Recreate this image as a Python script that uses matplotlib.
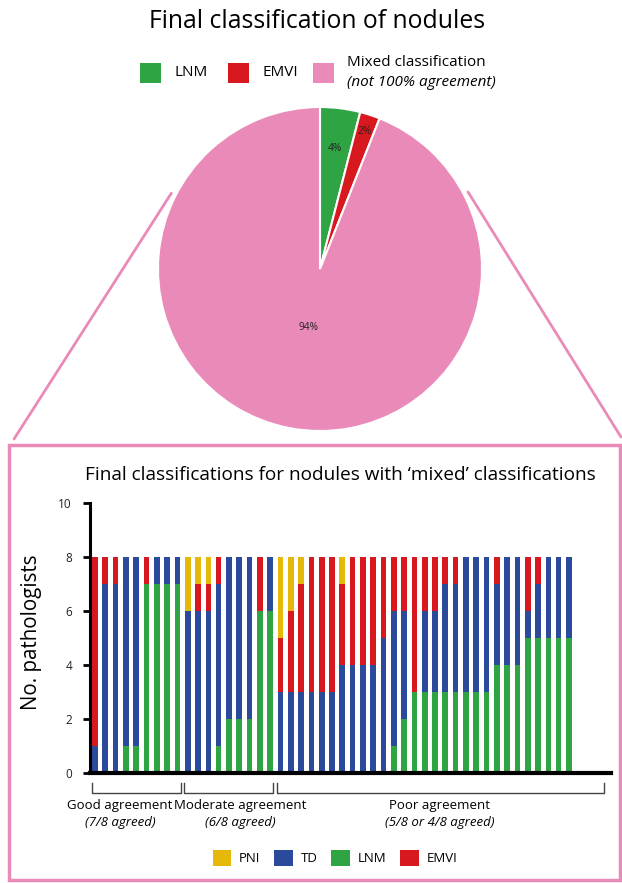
import matplotlib
matplotlib.use("Agg")
import matplotlib.pyplot as plt
from matplotlib.patches import Rectangle, ConnectionPatch
import numpy as np

plt.rcParams['font.family'] = ['Open Sans', 'DejaVu Sans']

green = '#2ea443'
blue = '#2b4a9b'
red = '#d7191f'
yellow = '#e6b80a'
pink = '#e98ab8'

# pie: final classification of nodules
pie_labels = ["LNM", "EMVI", "Mixed classification"]
pie_note = "(not 100% agreement)"
pie_share = [4, 2, 94]

# nodules with mixed classification, stacked bottom -> top: LNM, TD, EMVI, PNI
group_names = ["Good agreement", "Moderate agreement", "Poor agreement"]
group_notes = ["(7/8 agreed)", "(6/8 agreed)", "(5/8 or 4/8 agreed)"]
group_sizes = [9, 9, 29]

lnm = [0, 0, 0, 1, 1, 7, 7, 7, 7,
       0, 0, 0, 1, 2, 2, 2, 6, 6,
       0, 0, 0, 0, 0, 0, 0, 0, 0, 0, 0, 1, 2, 3, 3, 3, 3, 3, 3, 3, 3, 4, 4, 4, 5, 5, 5, 5, 5]
td = [1, 7, 7, 7, 7, 0, 1, 1, 1,
      6, 6, 6, 6, 6, 6, 6, 0, 2,
      3, 3, 3, 3, 3, 3, 4, 4, 4, 4, 5, 5, 4, 0, 3, 3, 4, 4, 5, 5, 5, 3, 4, 4, 1, 2, 3, 3, 3]
emvi = [7, 1, 1, 0, 0, 1, 0, 0, 0,
        0, 1, 1, 1, 0, 0, 0, 2, 0,
        2, 3, 4, 5, 5, 5, 3, 4, 4, 4, 3, 2, 2, 5, 2, 2, 1, 1, 0, 0, 0, 1, 0, 0, 2, 1, 0, 0, 0]
pni = [0, 0, 0, 0, 0, 0, 0, 0, 0,
       2, 1, 1, 0, 0, 0, 0, 0, 0,
       3, 2, 1, 0, 0, 0, 1, 0, 0, 0, 0, 0, 0, 0, 0, 0, 0, 0, 0, 0, 0, 0, 0, 0, 0, 0, 0, 0, 0]

W, H = 622, 883
fig = plt.figure(figsize=(W / 100, H / 100), dpi=100)


def fx(px):
    return px / W


def fy(py):
    return 1 - py / H


fig.text(fx(317), fy(22), "Final classification of nodules", ha='center', va='center', fontsize=17.8)

# ---- pie ----
pie_ax = fig.add_axes([fx(158), fy(431), fx(324), 324 / H])
wedges, _ = pie_ax.pie(pie_share, colors=[green, red, pink], startangle=90, counterclock=False,
                       wedgeprops=dict(edgecolor='white', linewidth=1.5))
pie_ax.set_xlim(-1, 1)
pie_ax.set_ylim(-1, 1)
label_r = [0.75, 0.89, 0.37]
for w, share, r in zip(wedges, pie_share, label_r):
    ang = np.deg2rad((w.theta1 + w.theta2) / 2)
    pie_ax.text(r * np.cos(ang), r * np.sin(ang), f"{share}%", ha='center', va='center',
                fontsize=7.3, color='#222222')

# pie key, laid out by hand (last entry has a second italic line)
key_x = [140, 228, 313]
for w, label, kx in zip(wedges, pie_labels, key_x):
    fig.add_artist(Rectangle((fx(kx), fy(83)), fx(21), 20 / H, transform=fig.transFigure,
                             facecolor=w.get_facecolor(), edgecolor='none'))
    if label == pie_labels[-1]:
        fig.text(fx(kx + 34), fy(63), label, ha='left', va='center', fontsize=11)
        fig.text(fx(kx + 34), fy(82), pie_note, ha='left', va='center', fontsize=11, style='italic')
    else:
        fig.text(fx(kx + 35), fy(73), label, ha='left', va='center', fontsize=11)

# zoom box
fig.add_artist(Rectangle((fx(9), fy(880)), fx(611), (880 - 445) / H, transform=fig.transFigure,
                         fill=False, edgecolor=pink, linewidth=2.5))
for ang, end in [(153, (14, 439)), (27.5, (621, 437))]:
    a = np.deg2rad(ang)
    con = ConnectionPatch(xyA=(1.03 * np.cos(a), 1.03 * np.sin(a)), coordsA=pie_ax.transData,
                          xyB=(fx(end[0]), fy(end[1])), coordsB=fig.transFigure,
                          color=pink, linewidth=2)
    fig.add_artist(con)

# ---- stacked bars ----
ax = fig.add_axes([fx(90), fy(773), fx(521), 270 / H])
x = np.arange(1, len(lnm) + 1)
bottom = np.zeros(len(x))
bars = {}
for name, vals, color in [("LNM", lnm, green), ("TD", td, blue), ("EMVI", emvi, red), ("PNI", pni, yellow)]:
    bars[name] = ax.bar(x, vals, bottom=bottom, width=0.55, color=color, label=name)
    bottom += np.array(vals)

ax.set_xlim(0.515, 51.08)
ax.set_ylim(0, 10)
ax.set_yticks(range(0, 11, 2))
ax.set_xticks([])
for s in ['top', 'right']:
    ax.spines[s].set_visible(False)
ax.spines['left'].set_linewidth(2.2)
ax.spines['bottom'].set_linewidth(3)
ax.tick_params(axis='y', length=5, width=2, pad=8, labelsize=8.5, labelcolor='#222222')
ax.set_ylabel("No. pathologists", fontsize=14.8)
ax.yaxis.set_label_coords(-0.092, 0.52)

fig.text(fx(340), fy(475), "Final classifications for nodules with \u2018mixed\u2019 classifications",
         ha='center', va='center', fontsize=13.7)

# agreement brackets
label_x = [3.43, 15.07, 34.48]
bracket_extra = [0, 0, 3.1]
first = 1
for name, note, n, lx, extra in zip(group_names, group_notes, group_sizes, label_x, bracket_extra):
    last = first + n - 1
    s, e = first - 0.32, last + 0.32 + extra
    ax.plot([s, s, e, e], [-0.37, -0.75, -0.75, -0.37], color='#444444', lw=1, clip_on=False)
    ax.text(lx, -1.19, name, ha='center', va='center', fontsize=9.5, clip_on=False)
    ax.text(lx, -1.85, note, ha='center', va='center', fontsize=9.5, style='italic', clip_on=False)
    first = last + 1

order = ["PNI", "TD", "LNM", "EMVI"]
fig.legend([bars[k] for k in order], order, loc='center', bbox_to_anchor=(fx(335), fy(858)), ncol=4,
           frameon=False, fontsize=9.5, handlelength=1.4, handleheight=1.4,
           handletextpad=0.6, columnspacing=1.05)

fig.savefig("out.png", dpi=100)
